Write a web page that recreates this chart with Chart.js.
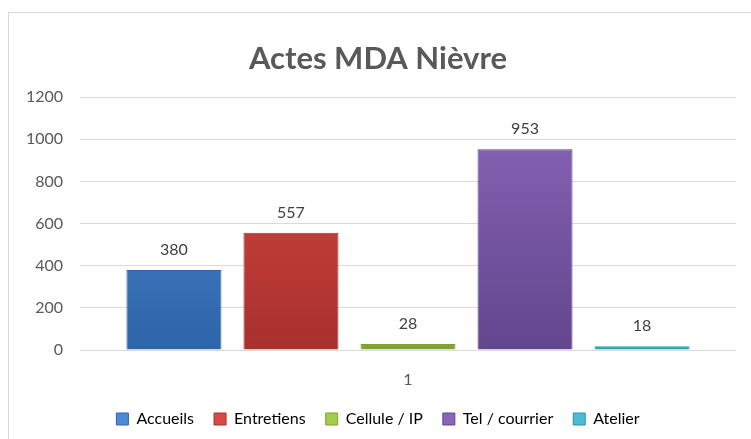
<!DOCTYPE html>
<html>
<head>
<meta charset="utf-8">
<script src="https://cdn.jsdelivr.net/npm/chart.js@4"></script>
<style>
  body { margin: 0; background: #fff; }
  #frame { position: absolute; left: 8px; top: 12px; width: 760px; height: 440px; border: 1px solid #d9d9d9; }
  #chart { position: absolute; left: 0; top: 0; }
</style>
</head>
<body>
<div id="frame"></div>
<canvas id="chart" width="751" height="439"></canvas>
<script>
const categories = ['1'];
const seriesNames = ['Accueils', 'Entretiens', 'Cellule / IP', 'Tel / courrier', 'Atelier'];
const seriesValues = [[380], [557], [28], [953], [18]];
const lightColors = ['#4f8ad6', '#d94a45', '#a3cc4a', '#8a66b8', '#4bbbd6'];
const darkColors = ['#2e64a8', '#a8302c', '#7fa332', '#62468e', '#2b93ad'];
const yTicks = [0, 200, 400, 600, 800, 1000, 1200];

function gradientFor(i) {
    return (ctx) => {
        const chart = ctx.chart;
        const area = chart.chartArea;
        if (!area) return lightColors[i];
        const g = chart.ctx.createLinearGradient(0, area.top, 0, area.bottom);
        g.addColorStop(0, lightColors[i]);
        g.addColorStop(1, darkColors[i]);
        return g;
    };
}

// value labels above each bar
const valueLabels = {
    id: 'valueLabels',
    afterDatasetsDraw(chart) {
        const ctx = chart.ctx;
        ctx.save();
        ctx.font = '16px Lato';
        ctx.fillStyle = '#404040';
        ctx.textAlign = 'center';
        ctx.textBaseline = 'middle';
        chart.data.datasets.forEach((ds, i) => {
            chart.getDatasetMeta(i).data.forEach((bar, j) => {
                ctx.fillText(ds.data[j], bar.x, bar.y - 20);
            });
        });
        ctx.restore();
    }
};

const datasets = seriesNames.map((name, i) => ({
    label: name,
    data: seriesValues[i],
    backgroundColor: gradientFor(i),
    borderColor: darkColors[i],
    borderWidth: 1
}));

new Chart(document.getElementById('chart'), {
    type: 'bar',
    data: { labels: categories, datasets: datasets },
    plugins: [valueLabels],
    options: {
        responsive: false,
        animation: false,
        categoryPercentage: 0.892,
        barPercentage: 0.812,
        layout: { padding: { left: 20, right: 15, top: 40, bottom: 2 } },
        plugins: {
            title: {
                display: true,
                text: 'Actes MDA Nièvre',
                color: '#595959',
                font: { family: 'Lato', size: 31, weight: 'bold' },
                padding: { top: 0, bottom: 20 }
            },
            legend: {
                position: 'bottom',
                labels: {
                    boxWidth: 12,
                    boxHeight: 12,
                    padding: 20,
                    color: '#595959',
                    font: { family: 'Lato', size: 16 },
                    generateLabels: (chart) => seriesNames.map((name, i) => ({
                        text: name,
                        fillStyle: lightColors[i],
                        strokeStyle: darkColors[i],
                        lineWidth: 1,
                        datasetIndex: i
                    }))
                }
            },
            tooltip: { enabled: false }
        },
        scales: {
            x: {
                afterFit: (scale) => { scale.height = 41; },
                grid: { display: false },
                border: { display: false },
                ticks: { color: '#595959', font: { family: 'Lato', size: 16 }, padding: 12 }
            },
            y: {
                min: 0,
                max: 1200,
                afterBuildTicks: (scale) => { scale.ticks = yTicks.map(v => ({ value: v })); },
                afterFit: (scale) => { scale.width = 60; },
                grid: { color: '#d9d9d9', drawTicks: false },
                border: { display: false },
                ticks: {
                    color: '#595959',
                    font: { family: 'Lato', size: 16 },
                    padding: 17,
                    callback: (v) => String(v)
                }
            }
        }
    }
});
</script>
</body>
</html>
